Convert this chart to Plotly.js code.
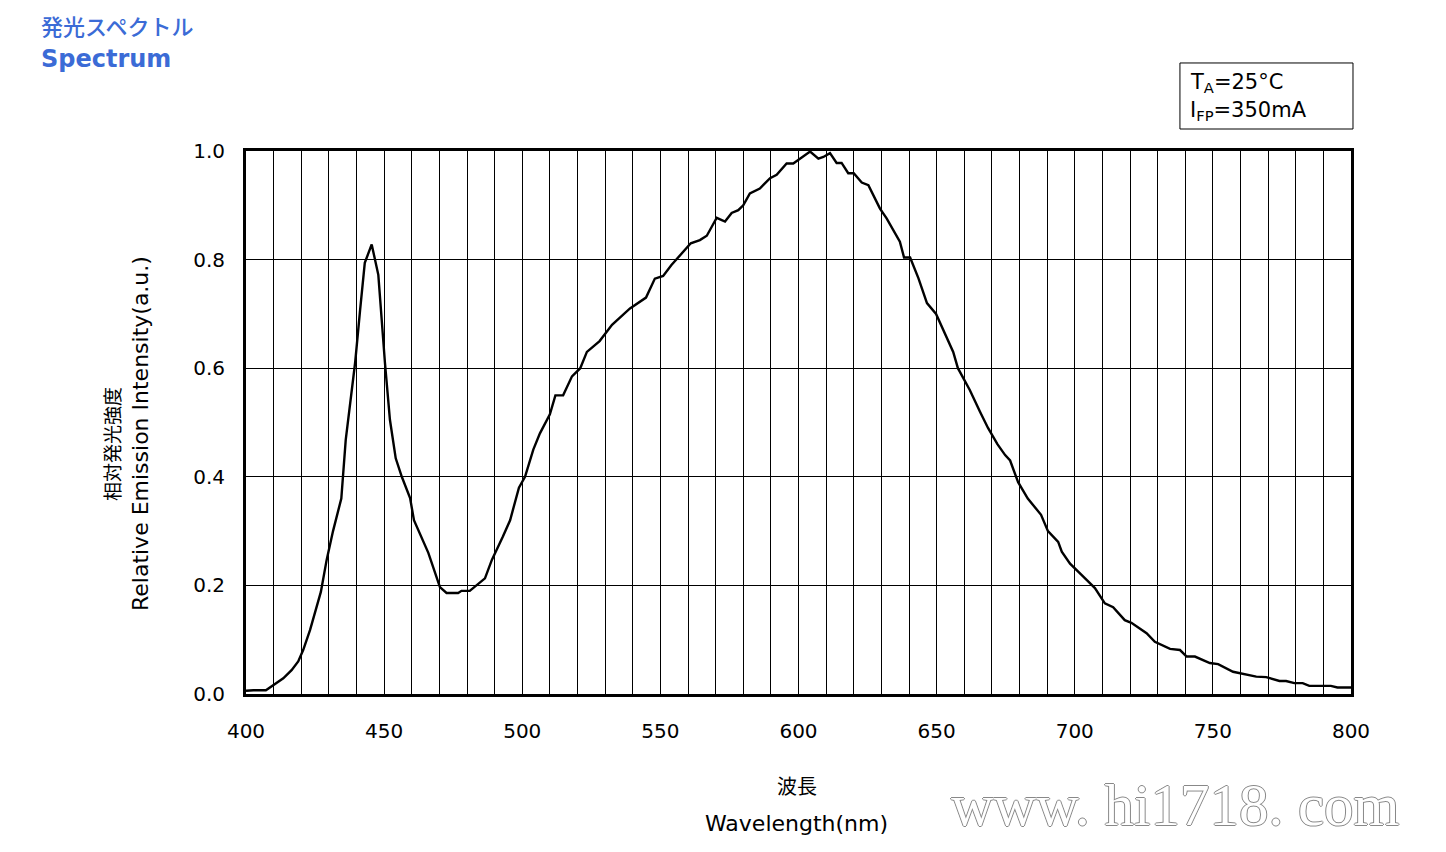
<!DOCTYPE html>
<html>
<head>
<meta charset="utf-8">
<script src="https://cdn.plot.ly/plotly-3.0.1.min.js"></script>
<style>html,body{margin:0;padding:0;background:#fff;}#chart{width:1446px;height:852px;}</style>
</head>
<body>
<div id="chart"></div>
<script>
// Data
const wavelength = [400, 402.7, 407.2, 409.9, 413.5, 416.5, 418.9, 420.7, 423.2, 427.1, 429.2, 431.5, 434.5, 436.1, 439.5, 441.3, 443.0, 445.5, 447.9, 450.3, 452.1, 454.2, 456.4, 459.4, 460.8, 466.0, 468.8, 470.2, 472.6, 476.8, 478.0, 481.0, 486.5, 489.0, 493.0, 495.6, 498.8, 501.0, 504.0, 506.4, 510.0, 512.0, 514.8, 518.0, 521.0, 523.4, 528.0, 532.5, 539.0, 544.8, 548.0, 551.0, 554.0, 557.5, 561.0, 564.3, 566.8, 570.4, 573.4, 575.8, 578.2, 580.0, 582.4, 586.0, 589.7, 592.1, 595.7, 598.1, 600.5, 603.0, 604.2, 607.2, 609.0, 611.4, 613.8, 615.6, 618.0, 620.0, 622.9, 625.3, 627.1, 629.5, 631.9, 634.3, 636.7, 638.2, 640.4, 643.4, 646.5, 649.8, 653.4, 656.0, 657.7, 662.0, 665.7, 668.6, 672.0, 674.8, 676.6, 679.5, 683.0, 686.3, 687.8, 690.3, 694.0, 695.3, 698.3, 703.1, 707.3, 710.9, 713.9, 718.1, 720.5, 726.0, 729.0, 734.5, 738.1, 740.5, 743.5, 748.9, 751.9, 757.3, 762.1, 765.7, 769.3, 774.1, 776.5, 779.5, 782.5, 784.9, 792.7, 795.1, 800];
const intensity = [0.006, 0.007, 0.007, 0.017, 0.029, 0.044, 0.060, 0.081, 0.118, 0.188, 0.247, 0.300, 0.360, 0.468, 0.610, 0.707, 0.794, 0.828, 0.772, 0.610, 0.505, 0.434, 0.400, 0.361, 0.320, 0.260, 0.220, 0.197, 0.186, 0.186, 0.190, 0.190, 0.213, 0.247, 0.290, 0.320, 0.380, 0.400, 0.450, 0.480, 0.515, 0.550, 0.550, 0.585, 0.600, 0.630, 0.650, 0.680, 0.710, 0.730, 0.765, 0.770, 0.790, 0.810, 0.830, 0.836, 0.844, 0.877, 0.870, 0.886, 0.891, 0.900, 0.922, 0.931, 0.950, 0.956, 0.977, 0.977, 0.986, 0.996, 0.999, 0.986, 0.989, 0.996, 0.978, 0.978, 0.959, 0.959, 0.942, 0.937, 0.919, 0.894, 0.876, 0.854, 0.833, 0.804, 0.804, 0.766, 0.720, 0.700, 0.660, 0.630, 0.600, 0.560, 0.520, 0.490, 0.460, 0.440, 0.430, 0.390, 0.360, 0.340, 0.330, 0.300, 0.280, 0.262, 0.240, 0.216, 0.195, 0.167, 0.160, 0.136, 0.131, 0.112, 0.096, 0.083, 0.081, 0.069, 0.069, 0.057, 0.055, 0.041, 0.036, 0.032, 0.031, 0.024, 0.024, 0.020, 0.020, 0.015, 0.015, 0.012, 0.012];

const titleJa = '発光スペクトル';
const titleEn = 'Spectrum';
const yTitleJa = '相対発光強度';
const yTitleEn = 'Relative Emission Intensity(a.u.)';
const xTitleJa = '波長';
const xTitleEn = 'Wavelength(nm)';
const condLines = ['T<sub>A</sub>=25°C', 'I<sub>FP</sub>=350mA'];
const watermark = 'www. hi1718. com';

const blue = '#3b6bd6';
const baseFont = 'DejaVu Sans, Verdana, sans-serif';
const cjkFont = 'Noto Sans CJK JP, sans-serif';

const trace = {
  x: wavelength, y: intensity, type: 'scatter', mode: 'lines',
  line: {color: '#000', width: 2.4}, hoverinfo: 'skip', showlegend: false
};

const layout = {
  width: 1446, height: 852,
  margin: {l: 246, r: 95, t: 151, b: 158},
  paper_bgcolor: '#fff', plot_bgcolor: '#fff',
  showlegend: false,
  xaxis: {
    range: [400, 800], dtick: 50, tick0: 400,
    showgrid: true, gridcolor: '#000', gridwidth: 1,
    minor: {dtick: 10, showgrid: true, gridcolor: '#000', gridwidth: 1, ticks: ''},
    showline: true, linecolor: '#000', linewidth: 3, mirror: true,
    ticks: '', zeroline: false, ticklabelstandoff: 17,
    tickfont: {family: baseFont, size: 20, color: '#000'}
  },
  yaxis: {
    range: [0, 1], dtick: 0.2, tick0: 0, tickformat: '.1f',
    showgrid: true, gridcolor: '#000', gridwidth: 1,
    showline: true, linecolor: '#000', linewidth: 3, mirror: true,
    ticks: '', zeroline: false, ticklabelstandoff: 14,
    tickfont: {family: baseFont, size: 20, color: '#000'}
  },
  shapes: [
    {type: 'rect', xref: 'paper', yref: 'paper', x0: 0.8452, x1: 1.0018, y0: 1.0405, y1: 1.1621,
     line: {color: '#000', width: 1}, fillcolor: 'rgba(0,0,0,0)'}
  ],
  annotations: [
    {text: titleJa, xref: 'paper', yref: 'paper', x: -0.1873, y: 1.2320, xanchor: 'left', yanchor: 'middle', showarrow: false,
     font: {family: cjkFont, size: 22, color: blue, weight: 500}},
    {text: titleEn, xref: 'paper', yref: 'paper', x: -0.1873, y: 1.1694, xanchor: 'left', yanchor: 'middle', showarrow: false,
     font: {family: baseFont, size: 24, color: blue, weight: 'bold'}},
    {text: condLines[0], xref: 'paper', yref: 'paper', x: 0.8525, y: 1.1252, xanchor: 'left', yanchor: 'middle', showarrow: false,
     font: {family: baseFont, size: 21, color: '#000'}},
    {text: condLines[1], xref: 'paper', yref: 'paper', x: 0.8525, y: 1.0737, xanchor: 'left', yanchor: 'middle', showarrow: false,
     font: {family: baseFont, size: 21, color: '#000'}},
    {text: xTitleJa, xref: 'paper', yref: 'paper', x: 0.4986, y: -0.1694, xanchor: 'center', yanchor: 'middle', showarrow: false,
     font: {family: cjkFont, size: 20, color: '#000'}},
    {text: xTitleEn, xref: 'paper', yref: 'paper', x: 0.4986, y: -0.2394, xanchor: 'center', yanchor: 'middle', showarrow: false,
     font: {family: baseFont, size: 22, color: '#000'}},
    {text: yTitleJa, xref: 'paper', yref: 'paper', x: -0.1222, y: 0.4604, xanchor: 'center', yanchor: 'middle', showarrow: false, textangle: -90,
     font: {family: cjkFont, size: 19, color: '#000'}},
    {text: yTitleEn, xref: 'paper', yref: 'paper', x: -0.0959, y: 0.4788, xanchor: 'center', yanchor: 'middle', showarrow: false, textangle: -90,
     font: {family: baseFont, size: 22, color: '#000'}},
    {text: watermark, xref: 'paper', yref: 'paper', x: 0.8407, y: -0.2044, xanchor: 'center', yanchor: 'middle', showarrow: false,
     font: {family: 'Liberation Serif, serif', size: 59, color: '#fff',
            shadow: '1px 0 0 #888, -1px 0 0 #888, 0 1px 0 #888, 0 -1px 0 #888'}}
  ]
};

Plotly.newPlot('chart', [trace], layout, {displayModeBar: false, staticPlot: true});
</script>
</body>
</html>
